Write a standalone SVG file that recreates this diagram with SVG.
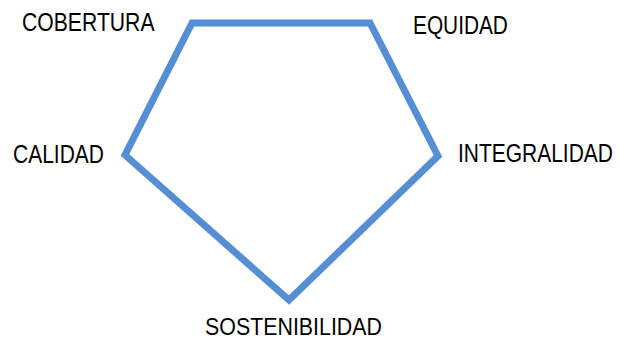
<svg xmlns="http://www.w3.org/2000/svg" width="619" height="340" viewBox="0 0 619 340">
<style>
.lbl{font-family:"Liberation Sans",Arial,sans-serif;font-size:25px;fill:#000}
.edge{fill:none;stroke:#558ED5;stroke-width:7;stroke-linejoin:miter}
</style>
<rect width="619" height="340" fill="#fff"/>
<g id="connectors">
<path class="edge" d="M192,23 L370,23 L438,156 L289,300 L125,155 Z"/>
</g>
<g id="cobertura"><text class="lbl" transform="translate(22,31) scale(0.847,1)">COBERTURA</text></g>
<g id="equidad"><text class="lbl" transform="translate(413,34) scale(0.834,1)">EQUIDAD</text></g>
<g id="calidad"><text class="lbl" transform="translate(13,163) scale(0.84,1)">CALIDAD</text></g>
<g id="integralidad"><text class="lbl" transform="translate(458,162) scale(0.839,1)">INTEGRALIDAD</text></g>
<g id="sostenibilidad"><text class="lbl" style="font-size:24px" transform="translate(205,334.5) scale(0.891,1)">SOSTENIBILIDAD</text></g>
</svg>
